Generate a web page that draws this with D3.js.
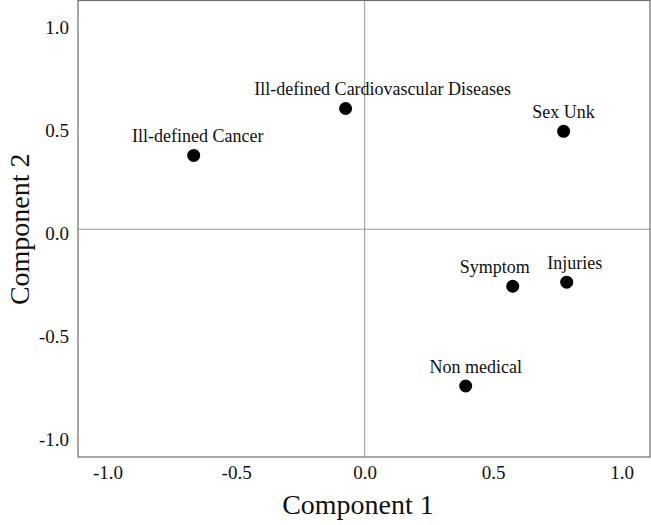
<!DOCTYPE html>
<html>
<head>
<meta charset="utf-8">
<script src="https://cdn.jsdelivr.net/npm/d3@7"></script>
<style>
  html, body { margin: 0; padding: 0; background: #fff; }
  svg { display: block; font-family: "Liberation Serif", "DejaVu Serif", serif; }
</style>
</head>
<body>
<svg id="chart" width="651" height="525"></svg>
<script>
// Data
const labels = ["Ill-defined Cancer", "Ill-defined Cardiovascular Diseases", "Sex Unk", "Symptom", "Injuries", "Non medical"];
const comp1 = [-0.665, -0.074, 0.774, 0.576, 0.786, 0.393];
const comp2 = [0.359, 0.587, 0.476, -0.277, -0.257, -0.762];
const tickValues = [-1.0, -0.5, 0.0, 0.5, 1.0];
const labelShift = [4, 37, 0, -18, 8, 10]; // horizontal label offsets (px)

const svg = d3.select("#chart");
const margin = { left: 78, top: 0.5, right: 1, bottom: 68 };
const W = 651, H = 525;
const x = d3.scaleLinear().domain([-1.115, 1.11]).range([margin.left, W - margin.right]);
const y = d3.scaleLinear().domain([-1.107, 1.112]).range([H - margin.bottom, margin.top]);
const fmt = d => d3.format(".1f")(d).replace("\u2212", "-");

// Zero reference lines
svg.append("line").attr("x1", x(0)).attr("x2", x(0)).attr("y1", y.range()[1]).attr("y2", y.range()[0])
  .attr("stroke", "#9a9a9a").attr("stroke-width", 1);
svg.append("line").attr("x1", x.range()[0]).attr("x2", x.range()[1]).attr("y1", y(0)).attr("y2", y(0))
  .attr("stroke", "#9a9a9a").attr("stroke-width", 1);

// Frame
svg.append("rect").attr("x", x.range()[0]).attr("y", y.range()[1])
  .attr("width", x.range()[1] - x.range()[0]).attr("height", y.range()[0] - y.range()[1])
  .attr("fill", "none").attr("stroke", "#6e6e6e").attr("stroke-width", 1.2);

// Axes
const xAxis = d3.axisBottom(x).tickValues(tickValues).tickFormat(fmt).tickSize(0).tickPadding(9);
const gx = svg.append("g").attr("transform", `translate(0,${y.range()[0]})`).call(xAxis);
gx.select(".domain").remove();
gx.selectAll("text").attr("font-size", 19).attr("fill", "#111").attr("font-family", "Liberation Serif, serif");

const yAxis = d3.axisLeft(y).tickValues(tickValues).tickFormat(fmt).tickSize(0).tickPadding(9);
const gy = svg.append("g").attr("transform", `translate(${x.range()[0]},4)`).call(yAxis);
gy.select(".domain").remove();
gy.selectAll("text").attr("font-size", 19).attr("fill", "#111").attr("font-family", "Liberation Serif, serif");

// Axis titles
svg.append("text").attr("x", 358).attr("y", 514).attr("text-anchor", "middle")
  .attr("font-size", 28).attr("fill", "#111").text("Component 1");
svg.append("text").attr("transform", `translate(29,${y(0)}) rotate(-90)`).attr("text-anchor", "middle")
  .attr("font-size", 28).attr("fill", "#111").text("Component 2");

// Points
const pts = labels.map((l, i) => ({ label: l, c1: comp1[i], c2: comp2[i], dx: labelShift[i] }));
svg.append("g").selectAll("circle").data(pts).join("circle")
  .attr("cx", d => x(d.c1)).attr("cy", d => y(d.c2)).attr("r", 6.5).attr("fill", "#000");
svg.append("g").selectAll("text").data(pts).join("text")
  .attr("x", d => x(d.c1) + d.dx).attr("y", d => y(d.c2) - 13.5)
  .attr("text-anchor", "middle").attr("font-size", 18).attr("fill", "#111").text(d => d.label);
</script>
</body>
</html>
